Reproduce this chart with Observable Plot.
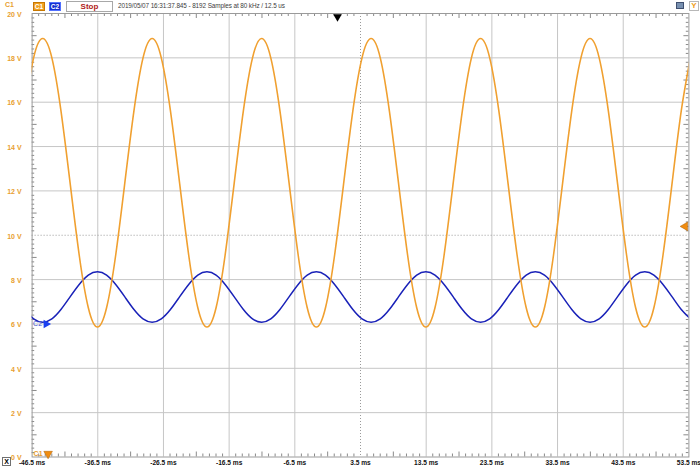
<!DOCTYPE html>
<html><head><meta charset="utf-8">
<script src="https://cdn.jsdelivr.net/npm/d3@7"></script>
<script src="https://cdn.jsdelivr.net/npm/@observablehq/plot@0.6"></script>
<style>
html,body{margin:0;padding:0;background:#fff;}
#wrap{position:relative;width:700px;height:469px;overflow:hidden;font-family:"Liberation Sans",Arial,sans-serif;}
#chart svg{display:block}
.abs{position:absolute;box-sizing:border-box;white-space:nowrap;}
</style></head><body>
<div id="wrap">
  <div id="chart"></div>
  <div class="abs" style="left:5px;top:0px;font-size:7px;font-weight:bold;color:#e8a030;line-height:9px;">C1</div>
  <div class="abs" style="left:33px;top:2px;width:12px;height:9px;background:#f0a020;border:1px solid #c87800;color:#fff;font-size:6.5px;font-weight:bold;line-height:7px;text-align:center;">C1</div>
  <div class="abs" style="left:49px;top:2px;width:12px;height:9px;background:#1530d0;border:1px solid #5070ff;color:#fff;font-size:6.5px;font-weight:bold;line-height:7px;text-align:center;">C2</div>
  <div class="abs" style="left:66px;top:1px;width:47px;height:11px;background:#fff;border:1px solid #a8a8a8;color:#b02020;font-size:8px;font-weight:bold;line-height:9px;text-align:center;">Stop</div>
  <div class="abs" style="left:118px;top:1px;font-size:6.4px;color:#404040;line-height:9px;letter-spacing:-0.1px;">2019/05/07 16:31:37.845 - 8192 Samples at 80 kHz / 12.5 us</div>
  <div class="abs" style="left:676px;top:2px;width:8px;height:7px;background:#7890b0;border:1px solid #405070;"></div>
  <div class="abs" style="left:689px;top:1px;width:10px;height:10px;border:1px solid #b8b8b8;color:#f0a020;font-size:8px;font-weight:bold;line-height:8px;text-align:center;">Y</div>
  <div class="abs" style="left:2px;top:457px;width:9px;height:9px;border:1px solid #707070;color:#000;font-size:7px;font-weight:bold;line-height:7px;text-align:center;">X</div>
</div>
<script>
const timeMs = [
  -47.66, -46.27, -44.88, -43.49, -42.11, -40.72, -39.33, -37.94,
  -36.55, -35.16, -33.77, -32.38, -30.99, -29.61, -28.22, -26.83, -25.44, -24.05, -22.66, -21.27,
  -19.88, -18.49, -17.11, -15.72, -14.33, -12.94, -11.55, -10.16, -8.77, -7.38, -5.99, -4.61,
  -3.22, -1.83, -0.44, 0.95, 2.34, 3.73, 5.12, 6.51, 7.89, 9.28, 10.67, 12.06,
  13.45, 14.84, 16.23, 17.62, 19.01, 20.39, 21.78, 23.17, 24.56, 25.95, 27.34, 28.73,
  30.12, 31.51, 32.89, 34.28, 35.67, 37.06, 38.45, 39.84, 41.23, 42.62, 44.01, 45.39,
  46.78, 48.17, 49.56, 50.95, 52.34, 53.73
];
const ch1Volts = [
  15.62, 18.00, 18.87, 18.00, 15.62, 12.37, 9.11, 6.73,
  5.86, 6.73, 9.11, 12.37, 15.62, 18.00, 18.87, 18.00, 15.62, 12.37, 9.11, 6.73,
  5.86, 6.73, 9.11, 12.37, 15.62, 18.00, 18.87, 18.00, 15.62, 12.37, 9.11, 6.73,
  5.86, 6.73, 9.11, 12.37, 15.62, 18.00, 18.87, 18.00, 15.62, 12.37, 9.11, 6.73,
  5.86, 6.73, 9.11, 12.37, 15.62, 18.00, 18.87, 18.00, 15.62, 12.37, 9.11, 6.73,
  5.86, 6.73, 9.11, 12.37, 15.62, 18.00, 18.87, 18.00, 15.62, 12.37, 9.11, 6.73,
  5.86, 6.73, 9.11, 12.37, 15.62, 18.00
];
const ch2Volts = [
  6.65, 6.23, 6.08, 6.23, 6.65, 7.22, 7.78, 8.20,
  8.35, 8.20, 7.78, 7.22, 6.65, 6.23, 6.08, 6.23, 6.65, 7.22, 7.78, 8.20,
  8.35, 8.20, 7.78, 7.22, 6.65, 6.23, 6.08, 6.23, 6.65, 7.22, 7.78, 8.20,
  8.35, 8.20, 7.78, 7.22, 6.65, 6.23, 6.08, 6.23, 6.65, 7.22, 7.78, 8.20,
  8.35, 8.20, 7.78, 7.22, 6.65, 6.23, 6.08, 6.23, 6.65, 7.22, 7.78, 8.20,
  8.35, 8.20, 7.78, 7.22, 6.65, 6.23, 6.08, 6.23, 6.65, 7.22, 7.78, 8.20,
  8.35, 8.20, 7.78, 7.22, 6.65, 6.23
];
const xTickValues = [-46.5, -36.5, -26.5, -16.5, -6.5, 3.5, 13.5, 23.5, 33.5, 43.5, 53.5];
const xTickLabels = ["-46.5 ms", "-36.5 ms", "-26.5 ms", "-16.5 ms", "-6.5 ms", "3.5 ms", "13.5 ms", "23.5 ms", "33.5 ms", "43.5 ms", "53.5 ms"];
const yTickValues = [0, 2, 4, 6, 8, 10, 12, 14, 16, 18, 20];
const yTickLabels = ["0 V", "2 V", "4 V", "6 V", "8 V", "10 V", "12 V", "14 V", "16 V", "18 V", "20 V"];
const triggerTimeMs = [0];
const triggerLevelV = [10.4];
const ch1GroundV = [0];
const ch2MarkerV = [6];

// ---- chart ----
const X0 = -46.5, X1 = 53.5, Y0 = 0, Y1 = 20;
const ORANGE = "#f0a030", BLUE = "#1a22b8", GRID = "#c6c6c6", RULER = "#8a8a8a";
const ch1 = timeMs.map((t, i) => ({t, v: ch1Volts[i]}));
const ch2 = timeMs.map((t, i) => ({t, v: ch2Volts[i]}));
const minorX = d3.range(X0 + 1, X1, 1).map(d => +d.toFixed(1)).filter(d => !xTickValues.includes(d));
const minorY = d3.range(Y0 + 0.2, Y1, 0.2).map(d => +d.toFixed(1)).filter(d => !yTickValues.includes(d));
const isMidX = d => Math.abs(((d - X0) % 10) - 5) < 0.01;
const isMidY = d => Math.abs(d - Math.round(d)) < 0.01;
const pxV = (469 - 13 - 12.5) / 20;       // pixels per volt
const pxMs = (700 - 31.6 - 11.6) / 100;   // pixels per ms
const tickLenV = d => (isMidX(d) ? 5 : 3) / pxV;
const tickLenMs = d => (isMidY(d) ? 5 : 2.6) / pxMs;
const fmtX = d => xTickLabels[xTickValues.indexOf(d)];

const chart = Plot.plot({
  width: 700, height: 469,
  marginLeft: 31.6, marginRight: 11.6, marginTop: 13, marginBottom: 12.5,
  x: {domain: [X0, X1], label: null},
  y: {domain: [Y0, Y1], label: null},
  style: {background: "#fff", fontFamily: "Liberation Sans, Arial, sans-serif", overflow: "visible"},
  marks: [
    Plot.ruleX(xTickValues.filter(d => d !== X0 && d !== X1 && d !== 3.5), {x: d => d, stroke: GRID}),
    Plot.ruleX([3.5], {x: d => d, stroke: "#9a9a9a", strokeDasharray: "1,2"}),
    Plot.ruleY(yTickValues.filter(d => d !== Y0 && d !== Y1 && d !== 10), {y: d => d, stroke: GRID}),
    Plot.ruleY([10], {y: d => d, stroke: "#9a9a9a", strokeDasharray: "1,2"}),
    // rulers
    Plot.ruleX(minorX, {x: d => d, y1: Y1, y2: d => Y1 - tickLenV(d), stroke: RULER}),
    Plot.ruleX(minorX, {x: d => d, y1: Y0, y2: d => Y0 + tickLenV(d), stroke: RULER}),
    Plot.ruleY(minorY, {y: d => d, x1: X0, x2: d => X0 + tickLenMs(d), stroke: RULER}),
    Plot.ruleY(minorY, {y: d => d, x1: X1, x2: d => X1 - tickLenMs(d), stroke: RULER}),
    Plot.frame({stroke: "#9a9a9a"}),
    // traces
    Plot.line(ch2, {x: "t", y: "v", stroke: BLUE, strokeWidth: 1.5, curve: "natural", clip: true}),
    Plot.line(ch1, {x: "t", y: "v", stroke: ORANGE, strokeWidth: 1.6, curve: "natural", clip: true}),
    // axes
    Plot.axisX(xTickValues, {anchor: "bottom", label: null, tickSize: 0, tickPadding: 3.5,
      tickFormat: fmtX, fontSize: 6.6, fontWeight: "bold", fill: "#111"}),
    Plot.axisY(yTickValues, {anchor: "left", label: null, tickSize: 0, tickPadding: 10.5,
      tickFormat: d => yTickLabels[yTickValues.indexOf(d)], fontSize: 7, fontWeight: "bold", fill: "#e8a030", dy: 1}),
    // markers
    Plot.dot(triggerTimeMs, {x: d => d, y: () => Y1, symbol: "triangle", rotate: 180, r: 3.2, fill: "#000", dy: 3.2}),
    Plot.dot(triggerLevelV, {x: () => X1, y: d => d, symbol: "triangle", rotate: -90, r: 3.2, fill: "#f08c10", stroke: "#b06000", strokeWidth: 0.5, dx: -3.8}),
    Plot.dot(ch1GroundV, {x: () => X0, y: d => d, symbol: "triangle", rotate: 180, r: 3.2, fill: "#f08c10", stroke: "#b06000", strokeWidth: 0.5, dx: 16, dy: -3.2}),
    Plot.text(ch1GroundV, {x: () => X0, y: d => d, text: () => "C1", textAnchor: "start", dx: 1.5, dy: -3.5, fontSize: 7, fill: "#e8a030", fontWeight: "bold"}),
    Plot.dot(ch2MarkerV, {x: () => X0, y: d => d, symbol: "triangle", rotate: 90, r: 3.2, fill: "#1a40f0", dx: 14}),
    Plot.text(ch2MarkerV, {x: () => X0, y: d => d, text: () => "C2", textAnchor: "start", dx: 1, dy: 0, fontSize: 7, fill: "#4050d0"})
  ]
});
document.getElementById("chart").appendChild(chart);
</script>
</body></html>
